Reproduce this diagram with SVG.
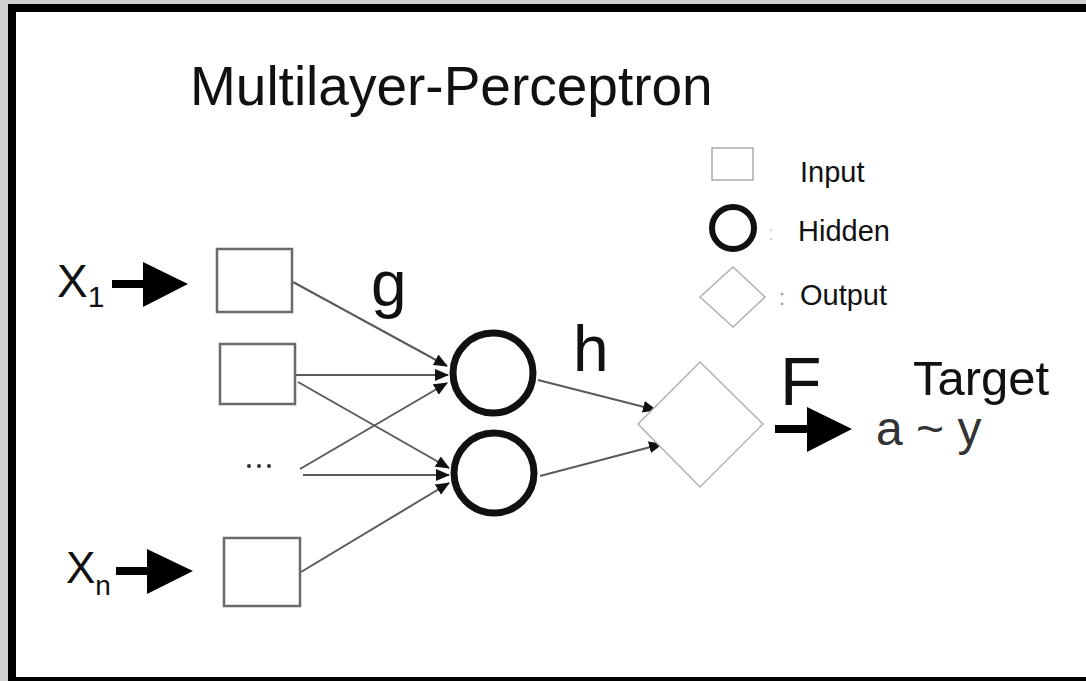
<svg xmlns="http://www.w3.org/2000/svg" width="1086" height="681" viewBox="0 0 1086 681">
<style>
  .txt { font-family: "Liberation Sans", Arial, sans-serif; fill: #111; }
  .conn { stroke: #5a5a5a; stroke-width: 2; fill: none; }
  .inbox { fill: #fff; stroke: #6a6a6a; stroke-width: 2.5; }
  .hid { fill: #fff; stroke: #111; stroke-width: 7; }
  .out { fill: #fff; stroke: #b0b0b0; stroke-width: 1.5; }
  .big { fill: #000; }
</style>
<defs>
  <marker id="ah" markerUnits="userSpaceOnUse" markerWidth="14" markerHeight="12" refX="13" refY="6" orient="auto">
    <path d="M0,0 L14,6 L0,12 z" fill="#111"/>
  </marker>
</defs>
<rect x="0" y="0" width="1086" height="681" fill="#d0d0d0"/>
<rect x="12" y="8" width="1090" height="673" fill="#fff" stroke="#000" stroke-width="8"/>

<g id="title"><text class="txt" x="190" y="105" font-size="55">Multilayer-Perceptron</text></g>

<g id="legend">
  <rect x="712" y="148" width="41" height="32" fill="#fff" stroke="#aaa" stroke-width="1.5"/>
  <text class="txt" x="800" y="182" font-size="29">Input</text>
  <circle cx="733" cy="228" r="21" fill="#fff" stroke="#111" stroke-width="6"/>
  <text x="768" y="240" font-size="20" font-family="Liberation Sans, sans-serif" fill="#ccc">:</text>
  <text class="txt" x="798" y="241" font-size="29">Hidden</text>
  <polygon points="700,297 733,267 765,297 733,327" fill="#fff" stroke="#b0b0b0" stroke-width="1.5"/>
  <text x="779" y="305" font-size="22" font-family="Liberation Sans, sans-serif" fill="#999">:</text>
  <text class="txt" x="800" y="305" font-size="29">Output</text>
</g>

<g id="connectors">
  <line class="conn" x1="293" y1="282" x2="447" y2="366" marker-end="url(#ah)"/>
  <line class="conn" x1="296" y1="375" x2="448" y2="375" marker-end="url(#ah)"/>
  <line class="conn" x1="298" y1="382" x2="449" y2="468" marker-end="url(#ah)"/>
  <line class="conn" x1="300" y1="469" x2="447" y2="383" marker-end="url(#ah)"/>
  <line class="conn" x1="303" y1="475" x2="449" y2="475" marker-end="url(#ah)"/>
  <line class="conn" x1="301" y1="572" x2="449" y2="483" marker-end="url(#ah)"/>
  <line class="conn" x1="538" y1="380" x2="656" y2="410" marker-end="url(#ah)"/>
  <line class="conn" x1="540" y1="476" x2="662" y2="444" marker-end="url(#ah)"/>
</g>

<g id="x1">
  <text class="txt" x="57" y="297" font-size="46">X<tspan font-size="30" dx="0" dy="10">1</tspan></text>
  <rect class="big" x="112" y="280" width="34" height="8"/>
  <polygon class="big" points="143,262 188,284 143,307"/>
</g>
<g id="xn">
  <text class="txt" x="66" y="583" font-size="44">X<tspan font-size="28" dx="0" dy="12">n</tspan></text>
  <rect class="big" x="116" y="567" width="34" height="8"/>
  <polygon class="big" points="147,549 193,571 147,594"/>
</g>

<g id="in1"><rect class="inbox" x="217" y="249" width="75" height="63"/></g>
<g id="in2"><rect class="inbox" x="220" y="344" width="75" height="60"/></g>
<g id="dots">
  <circle cx="249" cy="466" r="2" fill="#333"/>
  <circle cx="259" cy="466" r="2" fill="#333"/>
  <circle cx="269" cy="466" r="2" fill="#333"/>
</g>
<g id="inN"><rect class="inbox" x="224" y="538" width="76" height="68"/></g>

<g id="hidden1"><circle class="hid" cx="493" cy="373" r="40"/></g>
<g id="hidden2"><circle class="hid" cx="494" cy="473" r="40"/></g>

<g id="output"><polygon class="out" points="638,424 700,362 763,424 700,487"/></g>

<g id="labels">
  <text class="txt" x="371" y="306" font-size="64">g</text>
  <text class="txt" x="573" y="371" font-size="64">h</text>
  <text class="txt" x="780" y="405" font-size="68">F</text>
  <text class="txt" x="913" y="395" font-size="49">Target</text>
</g>

<g id="target">
  <rect class="big" x="775" y="425" width="35" height="8"/>
  <polygon class="big" points="807,407 852,429 807,452"/>
  <text x="876" y="445" font-size="48" font-family="Liberation Sans, Arial, sans-serif" fill="#333">a ~ y</text>
</g>
</svg>
